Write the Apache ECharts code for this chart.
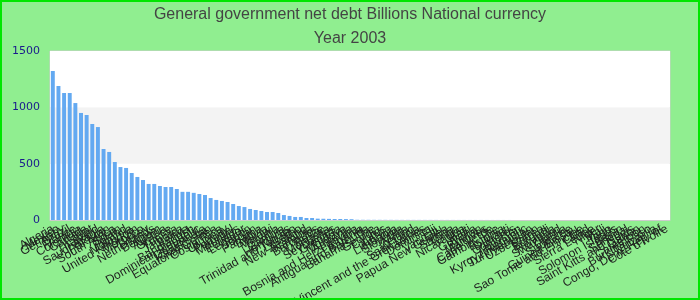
<!DOCTYPE html>
<html>
<head>
<meta charset="utf-8">
<script src="https://cdn.jsdelivr.net/npm/echarts@6/dist/echarts.min.js"></script>
<style>
html,body{margin:0;padding:0;background:#90ee90;}
#chart{width:700px;height:300px;}
</style>
</head>
<body>
<div id="chart"></div>
<script>
var titleText = 'General government net debt Billions National currency';
var subTitleText = 'Year 2003';
var yTicks = [0, 500, 1000, 1500];
var countries = [
 'Algeria','Mexico','Germany','Brazil','France','Colombia','Canada','Egypt','Thailand','Saudi Arabia',
 'Pakistan','South Africa','Spain','Poland','Malaysia','United Kingdom','Morocco','Turkey','Netherlands','Belgium',
 'Austria','Greece','Tunisia','Jamaica','Kenya','Bangladesh','Dominican Republic','Guatemala','Kazakhstan','Equatorial Guinea',
 'Costa Rica','Uruguay','Portugal','Mauritius','Ecuador','Lebanon','Jordan','Panama','Bolivia','Malawi',
 'Ghana','Zambia','Honduras','Trinidad and Tobago','Lesotho','New Zealand','Namibia','Barbados','Belize','Mongolia',
 'Seychelles','Grenada','Moldova','Armenia','Bosnia and Herzegovina','Albania','Antigua and Barbuda','Bahamas, The','Georgia','Cyprus',
 'Latvia','Lithuania','Slovenia','Malta','Iceland','Saint Lucia','Saint Vincent and the Grenadines','Dominica','Fiji','Vanuatu',
 'Papua New Guinea','Samoa','Tonga','Nicaragua','Haiti','Guyana','Bhutan','Maldives','Cape Verde','Gambia, The',
 'Estonia','Djibouti','Comoros','Tajikistan','Kyrgyz Republic','Turkmenistan','Uzbekistan','Eritrea','Burundi','Rwanda',
 'Swaziland','Liberia','Suriname','Guinea-Bissau','Sao Tome and Principe','Chad','Sierra Leone','Niger','Mali','Togo',
 'Solomon Islands','Benin','Senegal','Saint Kitts and Nevis','Gabon','Cameroon','Burkina Faso','Tanzania','Congo, Dem. Rep. of',"Cote d'Ivoire"
];
var netDebt = [
 1322,1189,1127,1127,1038,950,932,852,825,630,
 604,515,470,462,417,382,355,320,320,302,
 293,293,275,250,250,241,231,222,195,178,
 169,160,142,124,115,98,89,80,71,71,
 62,44,36,27,27,18,18,12,11,10,
 9,9,8,7,2,1.8,1.7,1.5,1.4,1.3,
 1.2,1.1,1,0.95,0.9,0.85,0.8,0.75,0.7,0.65,
 0.6,0.55,0.5,0.48,0.45,0.42,0.4,0.37,0.35,0.32,
 0.3,0.28,0.26,0.24,0.22,0.2,0.18,0.16,0.15,0.14,
 0.12,0.11,0.1,0.09,0.08,0.07,0.06,0.05,0.04,0.03,
 0.02,0.01,0.009,0.008,0.007,0.006,0.005,0.004,0.003,0.002
];

var chart = echarts.init(document.getElementById('chart'), null, {renderer:'canvas'});
chart.setOption({
  backgroundColor: '#90ee90',
  animation: false,
  title: {
    text: titleText + '\n' + subTitleText,
    left: 'center',
    top: -2,
    textStyle: {
      fontFamily: 'Liberation Sans Narrow, Liberation Sans, Arial, sans-serif',
      fontSize: 16,
      fontWeight: 'normal',
      color: '#444',
      lineHeight: 24
    }
  },
  graphic: [{
    type: 'rect',
    shape: {x: 1, y: 1, width: 698, height: 298},
    style: {fill: 'none', stroke: '#00e600', lineWidth: 2},
    silent: true,
    z: 100
  }],
  grid: {
    left: 50, right: 30, top: 51, bottom: 80,
    containLabel: false,
    outerBoundsMode: 'none',
    show: true,
    backgroundColor: '#ffffff',
    borderColor: '#cccccc',
    borderWidth: 1
  },
  xAxis: {
    type: 'category',
    data: countries,
    axisLine: {lineStyle: {color: '#cccccc'}},
    axisTick: {show: false},
    axisLabel: {
      interval: 0,
      rotate: 30,
      margin: 8,
      fontSize: 12,
      fontFamily: 'Liberation Sans, Arial, sans-serif',
      color: '#1e1e1e',
      hideOverlap: false
    }
  },
  yAxis: {
    type: 'value',
    min: yTicks[0],
    max: yTicks[yTicks.length - 1],
    interval: 500,
    axisLine: {show: false},
    axisTick: {show: false},
    splitLine: {show: false},
    splitArea: {show: true, areaStyle: {color: ['#ffffff', '#f3f3f3']}},
    axisLabel: {
      margin: 10,
      fontSize: 11,
      fontFamily: 'DejaVu Sans, sans-serif',
      color: '#1a1a8c',
      formatter: function (v) { return String(v); }
    }
  },
  series: [{
    type: 'bar',
    data: netDebt,
    barWidth: '70%',
    itemStyle: {color: '#63a9f1'}
  }]
});
</script>
</body>
</html>
